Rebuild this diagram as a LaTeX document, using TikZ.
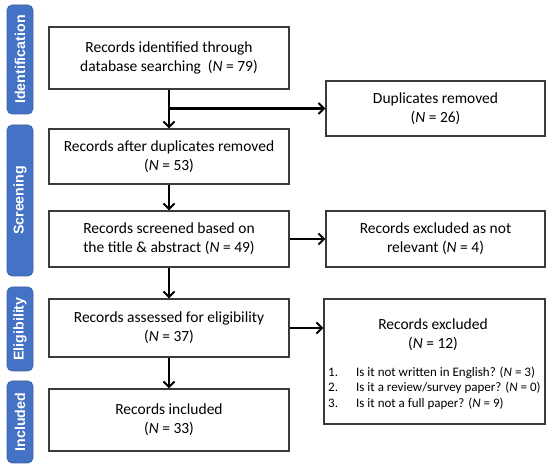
\documentclass[tikz,border=0pt]{standalone}
\usepackage{fontspec}
\setmainfont{Carlito}
\newfontfamily\tabfont{Liberation Sans}
\usetikzlibrary{arrows.meta}
\definecolor{tabblue}{HTML}{4472C4}
\definecolor{boxline}{HTML}{3A3A3A}
\tikzset{
  tabbox/.style={fill=tabblue, draw=tabblue!85!black, line width=0.6pt, rounded corners=5pt, minimum width=26pt, inner sep=0pt},
  tabtext/.style={text=white, font=\tabfont\bfseries\fontsize{14.2}{16}\selectfont, rotate=90},
  flowbox/.style={draw=boxline, line width=1.2pt, fill=white, inner sep=2pt, align=center, font=\fontsize{15.5}{19}\selectfont},
  flowarrow/.style={line width=2.2pt, -{Straight Barb[length=5.5pt,width=11pt,line width=2pt]}},
}
\newcommand{\NN}{\textit{N}}
\newcommand{\itemnum}[1]{\makebox[28pt][l]{#1}}
\begin{document}
\begin{tikzpicture}[x=1pt,y=-1pt]
\useasboundingbox (0,0) rectangle (550,468);
% side tabs
\node[tabbox, minimum height=109pt] (tid) at (20,59.5) {};
\node[tabtext] (tidt) at (tid.center) {Identification};
\node[tabbox, minimum height=151pt] (tsc) at (20,200.5) {};
\node[tabtext] (tsct) at (tsc.center) {Screening};
\node[tabbox, minimum height=84pt] (tel) at (20,329) {};
\node[tabtext] (telt) at (tel.center) {Eligibility};
\node[tabbox, minimum height=82pt] (tin) at (20,422) {};
\node[tabtext] (tint) at (tin.center) {Included};
% main boxes
\node[flowbox, minimum width=240pt, minimum height=62pt] (b1) at (169,58) {Records identified through\\database searching\ \ (\NN{} = 79)};
\node[flowbox, minimum width=240pt, minimum height=55pt] (b2) at (169,156.5) {Records after duplicates removed\\(\NN{} = 53)};
\node[flowbox, minimum width=240pt, minimum height=56pt] (b3) at (169,239) {Records screened based on\\the title \& abstract (\NN{} = 49)};
\node[flowbox, minimum width=240pt, minimum height=58pt] (b4) at (169,328) {Records assessed for eligibility\\(\NN{} = 37)};
\node[flowbox, minimum width=240pt, minimum height=62pt] (b5) at (169,420) {Records included\\(\NN{} = 33)};
% right boxes
\node[flowbox, minimum width=219pt, minimum height=55pt] (dup) at (435.5,108.5) {Duplicates removed\\(\NN{} = 26)};
\node[flowbox, minimum width=219pt, minimum height=56pt] (nrel) at (435.5,239) {Records excluded as not\\relevant (\NN{} = 4)};
\node[flowbox, minimum width=221pt, minimum height=125pt] (excl) at (434.5,361.5) {};
\node[align=center, inner sep=0pt, font=\fontsize{15.5}{19}\selectfont] (exclt) at (433,334.5) {Records excluded\\(\NN{} = 12)};
\node[anchor=west, align=left, inner sep=0pt, font=\fontsize{13}{15.5}\selectfont] (excll) at (328,388) {%
\itemnum{1.}Is it not written in English? (\NN{} = 3)\\
\itemnum{2.}Is it a review/survey paper? (\NN{} = 0)\\
\itemnum{3.}Is it not a full paper? (\NN{} = 9)};
% connectors
\coordinate (br) at (b1.south |- 0,108.5);
\draw[flowarrow] (b1.south) -- (b2.north);
\draw[flowarrow] ([xshift=-1.1pt]br) -- (dup.west);
\draw[flowarrow] (b2.south) -- (b3.north);
\draw[flowarrow] (b3.south) -- (b4.north);
\draw[flowarrow] (b4.south) -- (b5.north);
\draw[flowarrow] (b3.east) -- (nrel.west);
\draw[flowarrow] (b4.east) -- (excl.west |- b4.east);
\end{tikzpicture}
\end{document}
